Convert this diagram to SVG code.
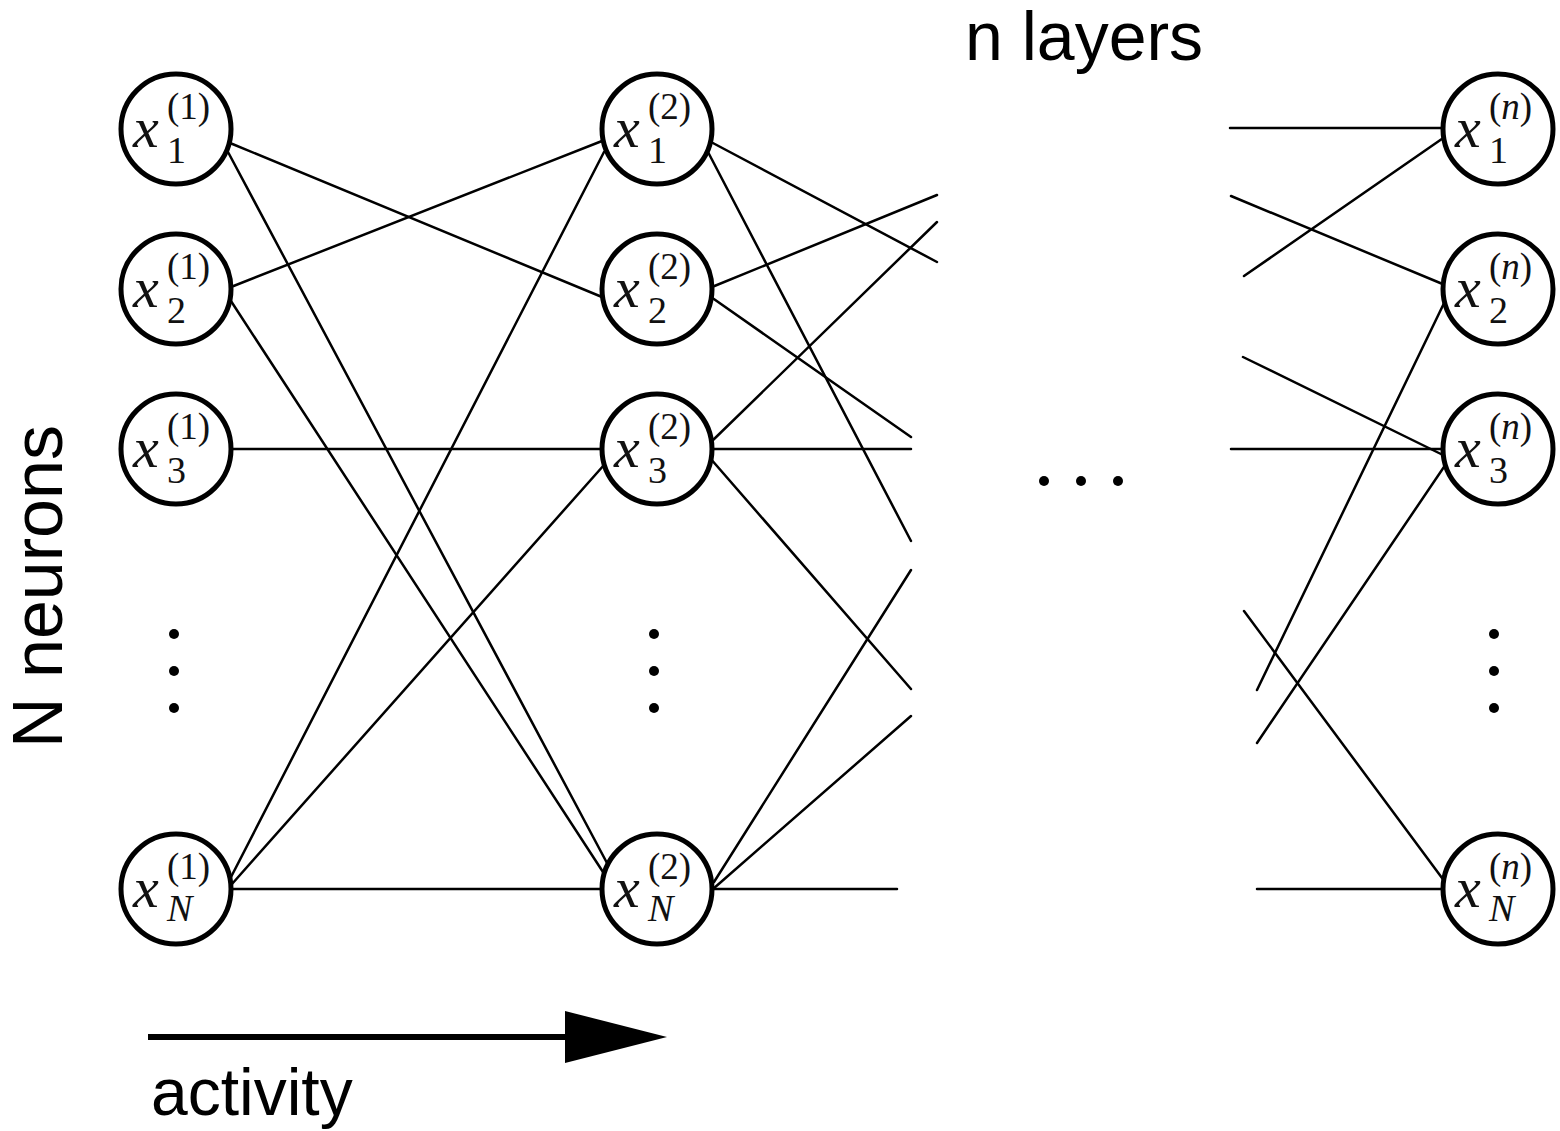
<svg xmlns="http://www.w3.org/2000/svg" width="1560" height="1131" viewBox="0 0 1560 1131">
<style>
.node{fill:#fff;stroke:#000;stroke-width:5}
.mx{font-family:"Liberation Serif",serif;font-style:italic;font-size:58px;fill:#111}
.sub{font-family:"Liberation Serif",serif;font-size:38px;fill:#111}
.sup{font-family:"Liberation Serif",serif;font-size:37px;fill:#111}
.it{font-style:italic}
.lbl{font-family:"Liberation Sans",Arial,sans-serif;font-size:66px;fill:#000}
.conn line{stroke:#000;stroke-width:2.5;stroke-linecap:round}
.dot{fill:#000}
</style>
<defs>
<g id="circ"><circle cx="0" cy="0" r="55" class="node"/></g>
</defs>
<rect width="1560" height="1131" fill="#fff"/>
<g id="connectors" class="conn">
<line x1="230" y1="143" x2="602" y2="297"/>
<line x1="228" y1="152" x2="607" y2="863"/>
<line x1="231" y1="287" x2="602" y2="141"/>
<line x1="229" y1="298" x2="603" y2="872"/>
<line x1="231" y1="449" x2="602" y2="449"/>
<line x1="230" y1="879" x2="604" y2="152"/>
<line x1="232" y1="884" x2="604" y2="465"/>
<line x1="231" y1="889" x2="602" y2="889"/>
<line x1="711" y1="142" x2="937" y2="262"/>
<line x1="708" y1="152" x2="911" y2="541"/>
<line x1="712" y1="287" x2="937" y2="195"/>
<line x1="711" y1="297" x2="911" y2="437"/>
<line x1="712" y1="449" x2="911" y2="449"/>
<line x1="710" y1="443" x2="937" y2="222"/>
<line x1="710" y1="458" x2="911" y2="689"/>
<line x1="714" y1="882" x2="911" y2="570"/>
<line x1="713" y1="889" x2="911" y2="716"/>
<line x1="713" y1="889" x2="897" y2="889"/>
<line x1="1230" y1="128" x2="1443" y2="128"/>
<line x1="1231" y1="196" x2="1445" y2="285"/>
<line x1="1244" y1="276" x2="1449" y2="134"/>
<line x1="1243" y1="357" x2="1445" y2="456"/>
<line x1="1231" y1="449" x2="1443" y2="449"/>
<line x1="1257" y1="690" x2="1447" y2="297"/>
<line x1="1257" y1="743" x2="1448" y2="461"/>
<line x1="1244" y1="611" x2="1445" y2="882"/>
<line x1="1257" y1="889" x2="1443" y2="889"/>
</g>
<g id="arrow">
<line x1="148" y1="1037" x2="566" y2="1037" stroke="#000" stroke-width="6"/>
<polygon points="565,1011 667,1037 565,1063" fill="#000"/>
</g>
<g id="n1_1"><use href="#circ" x="176" y="129"/><text class="mx" x="133" y="147">x</text><text class="sub" x="167" y="163">1</text><text class="sup" x="167" y="119">(1)</text></g>
<g id="n1_2"><use href="#circ" x="176" y="289"/><text class="mx" x="133" y="307">x</text><text class="sub" x="167" y="323">2</text><text class="sup" x="167" y="279">(1)</text></g>
<g id="n1_3"><use href="#circ" x="176" y="449"/><text class="mx" x="133" y="467">x</text><text class="sub" x="167" y="483">3</text><text class="sup" x="167" y="439">(1)</text></g>
<g id="n1_N"><use href="#circ" x="176" y="889"/><text class="mx" x="133" y="907">x</text><text class="sub it" x="167" y="921">N</text><text class="sup" x="167" y="879">(1)</text></g>
<g id="n2_1"><use href="#circ" x="657" y="129"/><text class="mx" x="614" y="147">x</text><text class="sub" x="648" y="163">1</text><text class="sup" x="648" y="119">(2)</text></g>
<g id="n2_2"><use href="#circ" x="657" y="289"/><text class="mx" x="614" y="307">x</text><text class="sub" x="648" y="323">2</text><text class="sup" x="648" y="279">(2)</text></g>
<g id="n2_3"><use href="#circ" x="657" y="449"/><text class="mx" x="614" y="467">x</text><text class="sub" x="648" y="483">3</text><text class="sup" x="648" y="439">(2)</text></g>
<g id="n2_N"><use href="#circ" x="657" y="889"/><text class="mx" x="614" y="907">x</text><text class="sub it" x="648" y="921">N</text><text class="sup" x="648" y="879">(2)</text></g>
<g id="nn_1"><use href="#circ" x="1498" y="129"/><text class="mx" x="1455" y="147">x</text><text class="sub" x="1489" y="163">1</text><text class="sup" x="1489" y="119">(<tspan class="it">n</tspan>)</text></g>
<g id="nn_2"><use href="#circ" x="1498" y="289"/><text class="mx" x="1455" y="307">x</text><text class="sub" x="1489" y="323">2</text><text class="sup" x="1489" y="279">(<tspan class="it">n</tspan>)</text></g>
<g id="nn_3"><use href="#circ" x="1498" y="449"/><text class="mx" x="1455" y="467">x</text><text class="sub" x="1489" y="483">3</text><text class="sup" x="1489" y="439">(<tspan class="it">n</tspan>)</text></g>
<g id="nn_N"><use href="#circ" x="1498" y="889"/><text class="mx" x="1455" y="907">x</text><text class="sub it" x="1489" y="921">N</text><text class="sup" x="1489" y="879">(<tspan class="it">n</tspan>)</text></g>
<g id="dots">
<circle class="dot" cx="174" cy="634" r="5"/><circle class="dot" cx="174" cy="671" r="5"/><circle class="dot" cx="174" cy="708" r="5"/>
<circle class="dot" cx="654" cy="634" r="5"/><circle class="dot" cx="654" cy="671" r="5"/><circle class="dot" cx="654" cy="708" r="5"/>
<circle class="dot" cx="1494" cy="634" r="5"/><circle class="dot" cx="1494" cy="671" r="5"/><circle class="dot" cx="1494" cy="708" r="5"/>
<circle class="dot" cx="1044" cy="481" r="5"/><circle class="dot" cx="1081" cy="481" r="5"/><circle class="dot" cx="1118" cy="481" r="5"/>
</g>
<g id="labels">
<text class="lbl" x="965" y="60" style="font-size:68px">n layers</text>
<text class="lbl" transform="translate(62,748) rotate(-90)" style="font-size:70px">N neurons</text>
<text class="lbl" x="151" y="1115">activity</text>
</g>
</svg>
